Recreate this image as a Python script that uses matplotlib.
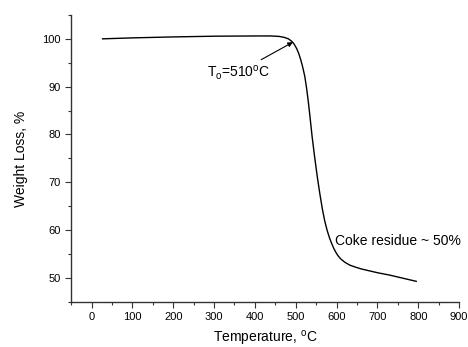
import numpy as np
import matplotlib
matplotlib.use("Agg")
import matplotlib.pyplot as plt
from matplotlib.ticker import MultipleLocator

plt.rcParams['font.family'] = ['Liberation Sans', 'DejaVu Sans']
plt.rcParams['mathtext.default'] = 'regular'

# TGA curve
temperature = [27, 100, 200, 300, 400, 440, 460, 472, 482, 490, 496, 502, 507, 512,
               517, 522, 526, 530, 534, 540, 547, 553, 559, 565, 571, 577, 583, 588,
               593, 598, 603, 610, 620, 632, 645, 660, 680, 700, 730, 760, 795]
weight = [100.0, 100.2, 100.4, 100.55, 100.6, 100.6, 100.5, 100.3, 100.0, 99.5, 98.9,
          98.0, 97.0, 95.7, 94.1, 92.2, 90.0, 87.4, 84.4, 79.6, 74.8, 71.0, 67.6, 64.5,
          61.9, 59.9, 58.3, 57.2, 56.2, 55.4, 54.7, 54.0, 53.3, 52.7, 52.3, 51.9, 51.5,
          51.1, 50.6, 50.0, 49.3]

onset_label = 'T$_o$=510$^o$C'
residue_label = 'Coke residue ~ 50%'

fig = plt.figure(figsize=(4.68, 3.47), dpi=100)
ax = fig.add_axes([0.152, 0.130, 0.829, 0.827])

ax.plot(temperature, weight, color='black', linewidth=1.0)

ax.set_xlim(-50, 900)
ax.set_ylim(45, 105)
ax.xaxis.set_major_locator(MultipleLocator(100))
ax.xaxis.set_minor_locator(MultipleLocator(50))
ax.yaxis.set_major_locator(MultipleLocator(10))
ax.yaxis.set_minor_locator(MultipleLocator(5))
ax.set_yticks([50, 60, 70, 80, 90, 100])

for side in ['top', 'right']:
    ax.spines[side].set_visible(False)
for side in ['left', 'bottom']:
    ax.spines[side].set_color('#333333')
    ax.spines[side].set_linewidth(1.0)

ax.tick_params(which='major', direction='out', length=4, width=0.8, labelsize=8, colors='#333333',
               labelcolor='black')
ax.tick_params(which='minor', direction='out', length=2.5, width=0.8, colors='#333333')

ax.set_xlabel('Temperature, $^o$C', fontsize=10, labelpad=5)
ax.set_ylabel('Weight Loss, %', fontsize=10, labelpad=10)

ax.annotate(onset_label, xy=(493, 99.3), xytext=(282, 93.0),
            fontsize=10, va='center', ha='left',
            arrowprops=dict(arrowstyle='-|>', color='black', lw=0.8,
                            mutation_scale=7, shrinkA=1, shrinkB=0))
ax.text(597, 57.8, residue_label, fontsize=10, va='center', ha='left')

fig.savefig('out.png', dpi=100)
